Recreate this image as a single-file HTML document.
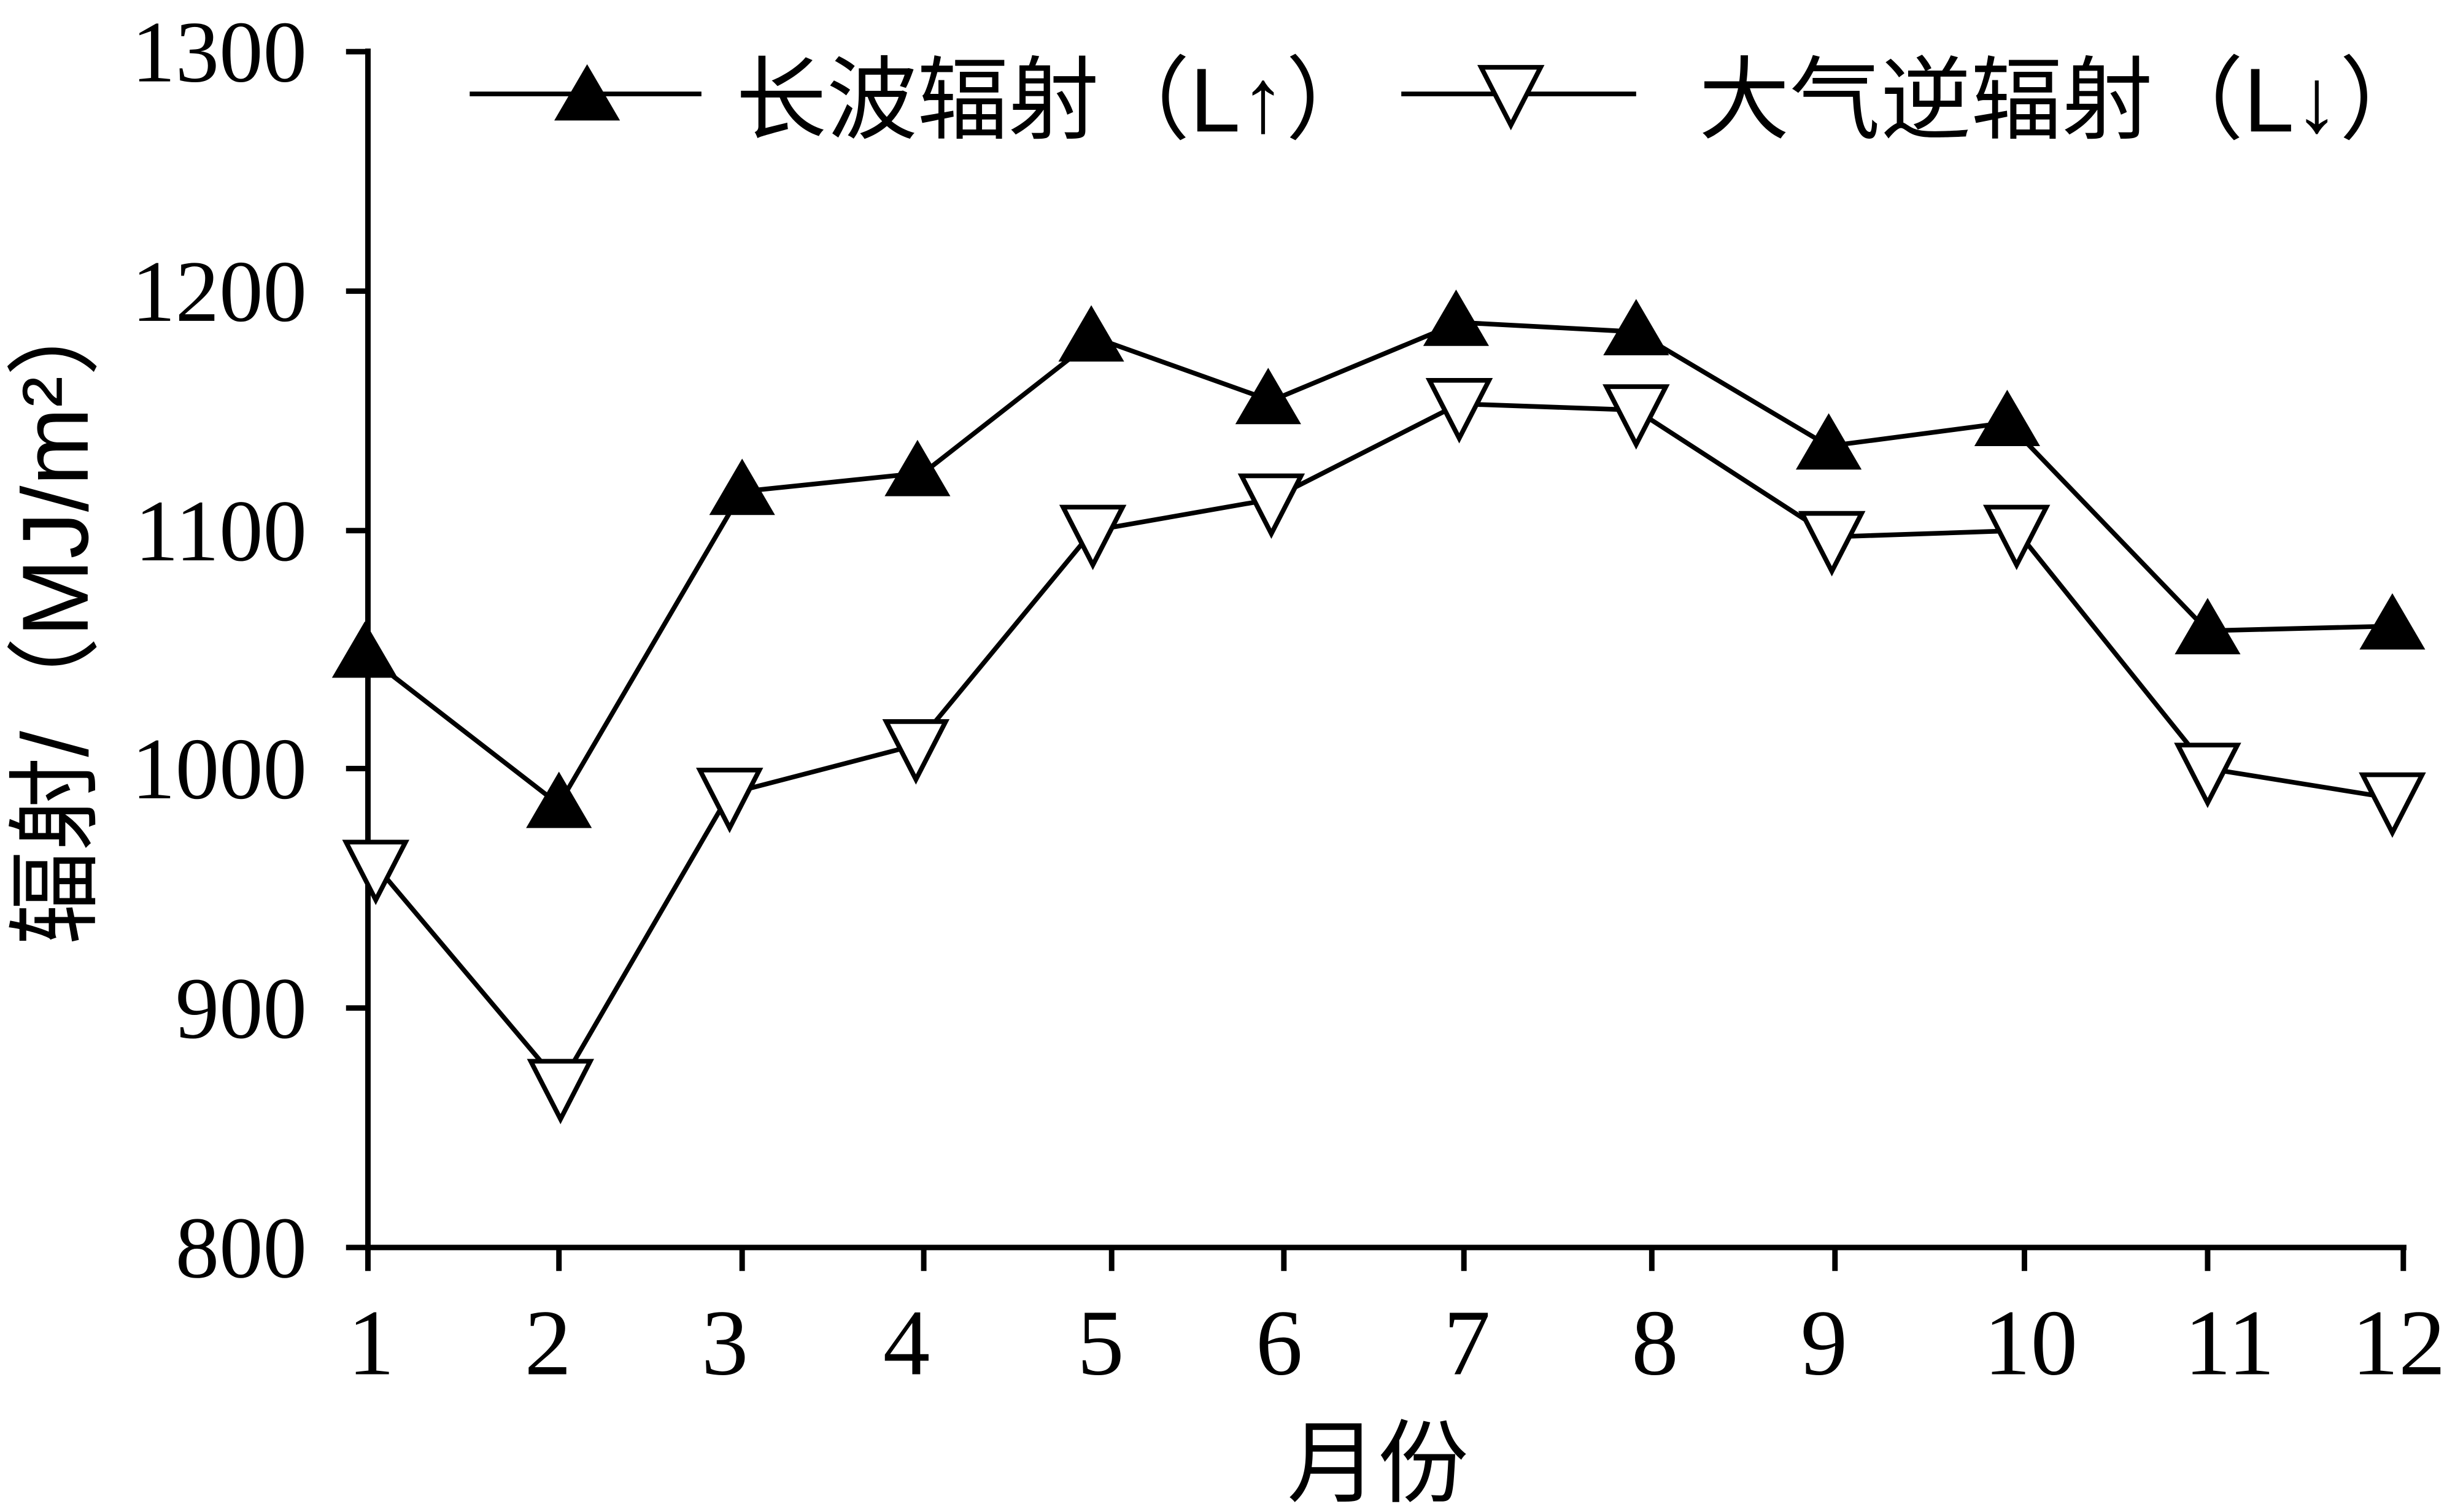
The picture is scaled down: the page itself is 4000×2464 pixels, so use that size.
<!DOCTYPE html>
<html><head><meta charset="utf-8"><style>html,body{margin:0;padding:0;background:#fff}svg{display:block}</style></head>
<body>
<svg width="4000" height="2464" viewBox="0 0 1568 966" preserveAspectRatio="none" xmlns="http://www.w3.org/2000/svg">
<defs>
<polygon id="up" points="-21,15 21,15 0,-21" fill="#000"/>
<polygon id="dn" points="-19,-15 19,-15 0,22" fill="#fff" stroke="#000" stroke-width="3"/>
</defs>
<g stroke="#000" stroke-width="3.5" fill="none">
<line x1="235" y1="31" x2="235" y2="799"/>
<line x1="233" y1="797" x2="1537" y2="797"/>
<line x1="221" y1="33" x2="235" y2="33"/>
<line x1="221" y1="186" x2="235" y2="186"/>
<line x1="221" y1="339" x2="235" y2="339"/>
<line x1="221" y1="491" x2="235" y2="491"/>
<line x1="221" y1="644" x2="235" y2="644"/>
<line x1="221" y1="797" x2="235" y2="797"/>
<g>
<line x1="235" y1="797" x2="235" y2="812"/><line x1="357" y1="797" x2="357" y2="812"/><line x1="474" y1="797" x2="474" y2="812"/><line x1="590" y1="797" x2="590" y2="812"/><line x1="710" y1="797" x2="710" y2="812"/><line x1="820" y1="797" x2="820" y2="812"/><line x1="935" y1="797" x2="935" y2="812"/><line x1="1055" y1="797" x2="1055" y2="812"/><line x1="1172" y1="797" x2="1172" y2="812"/><line x1="1293" y1="797" x2="1293" y2="812"/><line x1="1410" y1="797" x2="1410" y2="812"/><line x1="1535" y1="797" x2="1535" y2="812"/>
</g>
</g>
<g stroke="#000" stroke-width="3" fill="none">
<polyline points="233,418 357,514 474,314 590,302 700,216 812,256 932,206 1045,212 1168,285 1282,270 1410,403 1528,400"/>
<polyline points="240,553 358,693 466,507 585,476 698,339 812,319 932,258 1045,262 1170,343 1288,339 1410,491 1528,510"/>
<line x1="300" y1="60" x2="448" y2="60"/>
<line x1="895" y1="60" x2="1045" y2="60"/>
</g>
<g>
<use href="#up" x="233" y="418"/><use href="#up" x="357" y="514"/><use href="#up" x="474" y="314"/><use href="#up" x="586" y="302"/><use href="#up" x="697" y="216"/><use href="#up" x="810" y="256"/><use href="#up" x="930" y="206"/><use href="#up" x="1045" y="212"/><use href="#up" x="1168" y="285"/><use href="#up" x="1282" y="270"/><use href="#up" x="1410" y="403"/><use href="#up" x="1528" y="400"/>
<use href="#dn" x="240" y="553"/><use href="#dn" x="358" y="693"/><use href="#dn" x="466" y="507"/><use href="#dn" x="585" y="476"/><use href="#dn" x="698" y="339"/><use href="#dn" x="812" y="319"/><use href="#dn" x="932" y="258"/><use href="#dn" x="1045" y="262"/><use href="#dn" x="1170" y="343"/><use href="#dn" x="1288" y="339"/><use href="#dn" x="1410" y="491"/><use href="#dn" x="1528" y="510"/>
<use href="#up" x="375" y="62"/><use href="#dn" x="965" y="58"/>
</g>
<g font-family="Liberation Serif, serif" font-size="56" fill="#000" text-anchor="end">
<text x="196" y="52">1300</text><text x="196" y="205">1200</text><text x="196" y="358">1100</text><text x="196" y="510">1000</text><text x="196" y="663">900</text><text x="196" y="816">800</text>
</g>
<g font-family="Liberation Serif, serif" font-size="60" fill="#000" text-anchor="middle">
<text x="237" y="878">1</text><text x="350" y="878">2</text><text x="463" y="878">3</text><text x="579" y="878">4</text><text x="703" y="878">5</text><text x="817" y="878">6</text><text x="937" y="878">7</text><text x="1057" y="878">8</text><text x="1165" y="878">9</text><text x="1297" y="878">10</text><text x="1424" y="878">11</text><text x="1532" y="878">12</text>
</g>
<g font-family="Liberation Sans, Noto Sans CJK SC, sans-serif" font-size="58" fill="#000">
<text x="880" y="955" text-anchor="middle">月份</text>
<text transform="translate(56,392) rotate(-90)" text-anchor="middle" font-size="60">辐射/（MJ/m²）</text>
<text x="470" y="84">长波辐射（L↑）</text>
<text x="1085" y="84">大气逆辐射（L↓）</text>
</g>
</svg>
</body></html>
